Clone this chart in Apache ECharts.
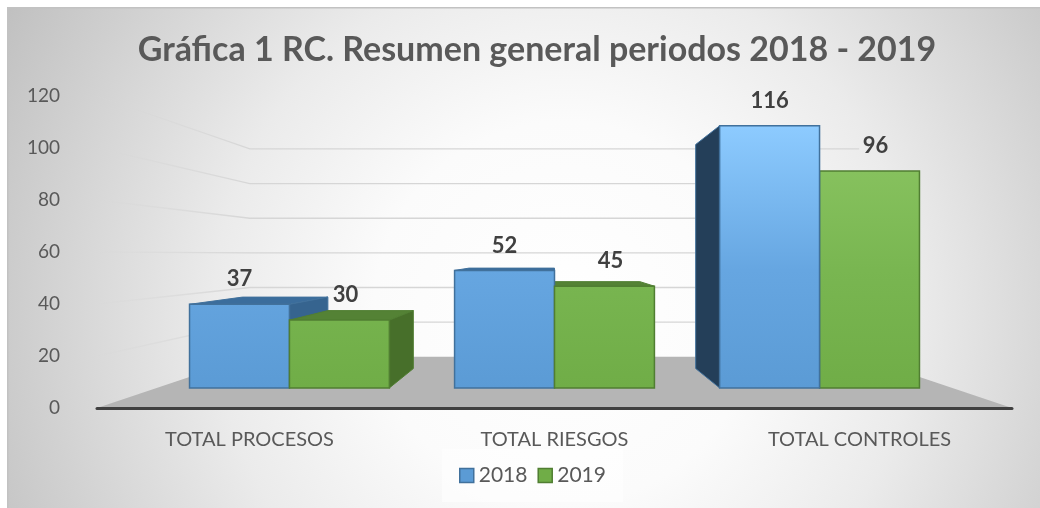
<!DOCTYPE html>
<html>
<head>
<meta charset="utf-8">
<script src="https://cdn.jsdelivr.net/npm/echarts@6/dist/echarts.min.js"></script>
<style>
  html, body { margin: 0; padding: 0; background: #ffffff; }
  #chart { width: 1040px; height: 508px; }
</style>
</head>
<body>
<div id="chart"></div>
<script>
var categories = ['TOTAL PROCESOS', 'TOTAL RIESGOS', 'TOTAL CONTROLES'];
var years = ['2018', '2019'];
var values2018 = [37, 52, 116];
var values2019 = [30, 45, 96];
var yTicks = [20, 40, 60, 80, 100, 120];

// fake 3d: everything is drawn on the front plane of the axes and then
// pulled toward a vanishing point (k = 1 front, smaller = deeper)
var EYE = 59;          // vanishing point height, in axis units
var BAR_FRONT = 0.869; // depth of the bar fronts
var BAR_BACK = 0.743;  // depth of the bar backs
var WALL = 0.666;      // depth of the back wall
var BAR_FRAC = 0.377;  // bar width as part of one category band
var FONT = 'Lato, "Liberation Sans", sans-serif';

var palette = {
  '2018': { top: '#8dcbff', mid: '#66a6e1', bottom: '#5b9bd5', line: '#41719c', lid: '#3b6d9c', right: '#36648f', left: '#243f59' },
  '2019': { top: '#8cc663', mid: '#79b651', bottom: '#70ad47', line: '#507e32', lid: '#548235', right: '#476f2a', left: '#2f4b1c' }
};

function proj(p, vp, k) {
  return [vp[0] + (p[0] - vp[0]) * k, vp[1] + (p[1] - vp[1]) * k];
}

function vanish(api) {
  return api.coord([(categories.length - 1) / 2, EYE]);
}

// left and right ends of the category axis at value v
function edges(api, v) {
  var band = api.size([1, 0])[0];
  var a = api.coord([0, v]), b = api.coord([categories.length - 1, v]);
  return [[a[0] - band / 2, a[1]], [b[0] + band / 2, b[1]]];
}

function barRenderer(slot, year) {
  var c = palette[year];
  return function(params, api) {
    var cat = api.value(0), v = api.value(1);
    var vp = vanish(api);
    var band = api.size([1, 0])[0];
    var base = api.coord([cat, 0]);
    var top = api.coord([cat, v]);
    var x0 = base[0] + (slot - 1) * band * BAR_FRAC;
    var x1 = x0 + band * BAR_FRAC;
    var F = [[x0, top[1]], [x1, top[1]], [x1, base[1]], [x0, base[1]]];
    var f = F.map(function(p) { return proj(p, vp, BAR_FRONT); });
    var b = F.map(function(p) { return proj(p, vp, BAR_BACK); });
    var gTop = proj(api.coord([0, 116]), vp, BAR_FRONT)[1];
    var gBot = f[3][1];
    var z = 1000 - Math.abs((f[0][0] + f[1][0]) / 2 - vp[0]);
    var kids = [];
    if (f[0][1] > vp[1]) {
      kids.push({ type: 'polygon', z2: z, shape: { points: [f[0], f[1], b[1], b[0]] },
        style: { fill: c.lid, stroke: c.line, lineWidth: 1 } });
    }
    if (f[1][0] < vp[0] - 1) {
      kids.push({ type: 'polygon', z2: z, shape: { points: [f[1], b[1], b[2], f[2]] },
        style: { fill: c.right, stroke: c.line, lineWidth: 1 } });
    }
    if (f[0][0] > vp[0] + 1) {
      kids.push({ type: 'polygon', z2: z, shape: { points: [f[0], b[0], b[3], f[3]] },
        style: { fill: c.left, stroke: c.line, lineWidth: 1 } });
    }
    kids.push({ type: 'polygon', z2: z + 0.5, shape: { points: f },
      style: {
        fill: { type: 'linear', x: 0, y: gTop, x2: 0, y2: gBot, global: true,
          colorStops: [{ offset: 0, color: c.top }, { offset: 0.55, color: c.mid }, { offset: 1, color: c.bottom }] },
        stroke: c.line, lineWidth: 1.5 } });
    kids.push({ type: 'text', z2: 5000, style: {
      x: (f[0][0] + f[1][0]) / 2 + slot * 6, y: f[0][1] - 25, text: String(v),
      align: 'center', verticalAlign: 'middle',
      font: 'bold 22px ' + FONT, fill: '#404040' } });
    return { type: 'group', children: kids };
  };
}

function renderFloor(params, api) {
  var vp = vanish(api);
  var e = edges(api, 0);
  return { type: 'polygon', shape: { points: [e[0], proj(e[0], vp, WALL), proj(e[1], vp, WALL), e[1]] },
    style: { fill: '#b5b5b5' } };
}

function renderGrid(params, api) {
  var vp = vanish(api);
  var e = edges(api, api.value(1));
  var l = e[0], r = e[1];
  var bl = proj(l, vp, WALL), br = proj(r, vp, WALL);
  return { type: 'polyline', shape: { points: [l, bl, br] },
    style: { fill: null, lineWidth: 1.3,
      stroke: { type: 'linear', x: l[0], y: 0, x2: bl[0], y2: 0, global: true,
        colorStops: [{ offset: 0, color: 'rgba(215,215,215,0.15)' }, { offset: 1, color: '#d6d6d6' }] } } };
}

var chart = echarts.init(document.getElementById('chart'));
chart.setOption({
  backgroundColor: '#ffffff',
  animation: false,
  graphic: [{
    type: 'rect', left: 7, top: 7, z: -10, silent: true,
    shape: { width: 1040, height: 508 },
    style: {
      fill: { type: 'radial', x: 0.535, y: 0.6, r: 1.25,
        colorStops: [{ offset: 0, color: '#ffffff' }, { offset: 0.3, color: '#fbfbfb' }, { offset: 0.55, color: '#ebebeb' }, { offset: 1, color: '#c0c0c0' }] },
      stroke: '#c2c2c2', lineWidth: 1.5
    }
  }],
  title: {
    text: 'Gráfica 1 RC. Resumen general periodos 2018 - 2019',
    left: 532, top: 28, textAlign: 'center',
    textStyle: { fontSize: 34, fontWeight: 'bold', color: '#595959', fontFamily: FONT }
  },
  legend: {
    left: 442, top: 449,
    padding: [16, 17, 16, 17],
    backgroundColor: 'rgba(255,255,255,0.55)',
    itemWidth: 14, itemHeight: 14, itemGap: 10,
    icon: 'rect',
    textStyle: { fontSize: 21, color: '#595959', fontFamily: FONT },
    data: years.map(function(y) {
      return { name: y, itemStyle: { color: palette[y].bottom, borderColor: palette[y].line, borderWidth: 1.5 } };
    })
  },
  grid: { left: 97, right: 28, top: 96, bottom: 100 },
  xAxis: {
    type: 'category', data: categories, z: 5,
    axisLine: { lineStyle: { color: '#404040', width: 3 } },
    axisTick: { show: false },
    axisLabel: { fontSize: 20, color: '#595959', fontFamily: FONT, margin: 22 }
  },
  yAxis: {
    type: 'value', min: 0, max: 120, interval: 20,
    axisLine: { show: false }, axisTick: { show: false }, splitLine: { show: false },
    axisLabel: { fontSize: 19, color: '#595959', fontFamily: FONT, margin: 37 }
  },
  series: [
    { type: 'custom', name: 'floor', z: 1, silent: true, renderItem: renderFloor,
      data: [[0, 0]], encode: { x: 0, y: 1 } },
    { type: 'custom', name: 'grid', z: 1, silent: true, renderItem: renderGrid,
      data: yTicks.map(function(v) { return [0, v]; }), encode: { x: 0, y: 1 } },
    { type: 'custom', name: '2018', renderItem: barRenderer(0, '2018'),
      itemStyle: { color: palette['2018'].bottom },
      data: values2018.map(function(v, i) { return [i, v]; }), encode: { x: 0, y: 1 } },
    { type: 'custom', name: '2019', renderItem: barRenderer(1, '2019'),
      itemStyle: { color: palette['2019'].bottom },
      data: values2019.map(function(v, i) { return [i, v]; }), encode: { x: 0, y: 1 } }
  ]
});
</script>
</body>
</html>
